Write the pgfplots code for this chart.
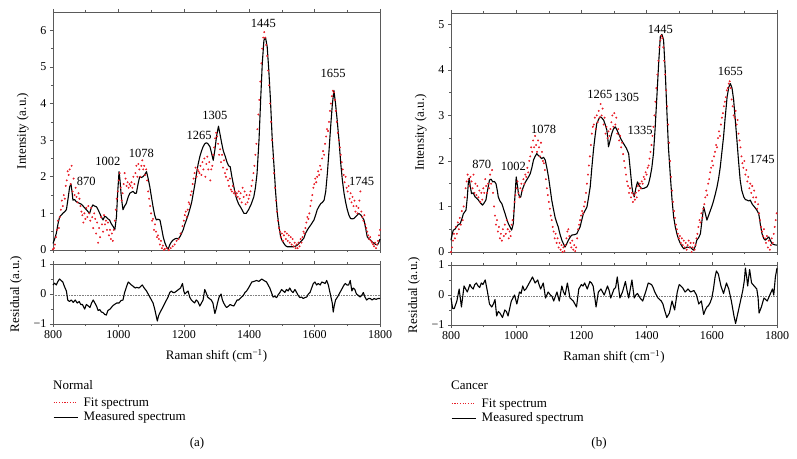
\documentclass[border=0pt]{standalone}
\usepackage{fontspec}
\setmainfont{Liberation Serif}
\usepackage{pgfplots}
\pgfplotsset{compat=1.18}
\definecolor{fitred}{RGB}{232,30,40}
\definecolor{axgray}{RGB}{90,90,90}
\tikzset{pk/.style={font=\fontsize{12.5}{14}\selectfont, inner sep=0pt}}
\pgfplotsset{
  base/.style={scale only axis, xmin=800, xmax=1800,
    xtick={800,1000,...,1800}, minor x tick num=1,
    tick align=outside, major tick length=3pt, minor tick length=2pt,
    axis line style={axgray, line width=0.8pt},
    every tick/.style={axgray, line width=0.6pt},
    ytick pos=left, xtick pos=both,
    /pgf/number format/assume math mode=true,
    /pgf/number format/1000 sep={},
    ticklabel style={font=\fontsize{12}{14}\selectfont},
    label style={font=\fontsize{13}{15}\selectfont},
    ylabel shift=5pt, xlabel shift=4pt,
    clip=false},
  meas/.style={black, line width=1.1pt, line join=round},
  fit/.style={fitred, only marks, mark=*, mark size=0.75pt},
  lg/.style={legend style={at={(0,-1.2)}, anchor=north west, draw=none, fill=none, inner sep=0pt,
    font=\fontsize{13}{15}\selectfont, row sep=1pt, column sep=4pt, nodes={inner sep=1.5pt}},
    legend cell align=left},
}
\newcommand{\fitimg}{\addlegendimage{legend image code/.code={\draw[draw=fitred, dash pattern=on 1.1pt off 1.6pt, line width=1pt] (0pt,0pt) -- (24pt,0pt);}}}
\newcommand{\measimg}{\addlegendimage{legend image code/.code={\draw[draw=black, line width=1pt] (0pt,0pt) -- (24pt,0pt);}}}
\begin{document}
\begin{tikzpicture}
\path[use as bounding box] (0pt,0pt) rectangle (797pt,458pt);
% ---------------- (a) Normal ----------------
\begin{axis}[base, at={(53pt,208pt)}, anchor=south west, width=327pt, height=238pt,
  ymin=0, ymax=6.5, ytick={0,...,6}, minor y tick num=1, xticklabels={},
  ylabel={Intensity (a.u.)}]
\addplot[fit] coordinates {
(800,0.02)(803,0.05)(806,0.15)(809,0.35)(812,0.55)(815,0.8)(818,0.6)(821,0.9)(824,1.1)(827,1.35)
(830,1.2)(833,1.5)(836,1.4)(839,1.75)(842,1.9)(845,2.15)(848,2.05)(851,2.2)(854,1.8)(857,2.3)
(860,1.6)(863,1.95)(866,1.5)(869,1.7)(872,1.45)(875,1.3)(878,1.55)(881,1.4)(884,1.2)(887,1.05)
(890,0.95)(893,0.75)(896,1.0)(899,0.85)(902,1.15)(905,0.9)(908,1.2)(911,1.0)(914,0.8)(917,1.15)
(920,0.9)(923,0.6)(926,1.0)(929,0.85)(932,0.45)(935,0.75)(938,0.2)(941,0.6)(944,0.35)(947,0.9)
(950,0.7)(953,0.5)(956,0.95)(959,0.7)(962,0.8)(965,0.55)(968,0.75)(971,0.4)(974,0.55)(977,0.3)
(980,0.45)(983,0.25)(986,0.55)(989,0.8)(992,1.1)(995,1.4)(998,1.6)(1001,1.9)(1004,2.1)(1007,1.7)
(1010,1.35)(1013,1.55)(1016,1.8)(1019,2.1)(1022,1.95)(1025,1.75)(1028,1.85)(1031,1.7)(1034,1.8)(1037,1.75)
(1040,1.85)(1043,1.7)(1046,2.0)(1049,1.8)(1052,2.1)(1055,2.3)(1058,2.0)(1061,2.35)(1064,2.2)(1067,2.0)
(1070,2.3)(1073,2.45)(1076,2.2)(1079,2.3)(1082,2.05)(1085,2.2)(1088,1.9)(1091,1.6)(1094,1.4)(1097,1.2)
(1100,1.0)(1103,0.8)(1106,0.85)(1109,0.55)(1112,0.7)(1115,0.5)(1118,0.35)(1121,0.4)(1124,0.3)(1127,0.15)
(1130,0.25)(1133,0.05)(1136,0.12)(1139,0.0)(1142,0.03)(1148,0.05)(1154,0.0)(1160,0.05)(1166,0.1)(1172,0.15)
(1178,0.25)(1184,0.3)(1190,0.45)(1196,0.65)(1200,0.8)(1203,0.95)(1206,1.05)(1209,0.9)(1212,1.1)(1215,1.3)
(1218,1.25)(1221,1.5)(1224,1.6)(1227,1.8)(1230,1.95)(1233,2.1)(1236,2.25)(1239,2.0)(1242,2.2)(1245,2.15)
(1248,2.1)(1251,2.3)(1254,2.05)(1257,2.4)(1260,2.2)(1263,2.5)(1266,2.0)(1269,2.35)(1272,2.55)(1275,2.2)
(1278,2.4)(1281,1.9)(1284,2.2)(1287,2.3)(1290,2.6)(1293,2.8)(1296,3.05)(1299,3.2)(1302,3.1)(1305,2.9)
(1308,2.6)(1311,2.75)(1314,2.4)(1317,2.6)(1320,2.25)(1323,2.45)(1326,2.1)(1329,2.0)(1332,2.2)(1335,1.9)
(1338,1.75)(1341,1.95)(1344,1.65)(1347,1.6)(1350,1.75)(1353,1.55)(1356,1.6)(1359,1.5)(1362,1.55)(1365,1.45)
(1368,1.6)(1371,1.4)(1374,1.55)(1377,1.3)(1380,1.7)(1383,1.45)(1386,1.6)(1389,1.25)(1392,1.5)(1395,1.3)
(1398,1.4)(1401,1.5)(1404,1.6)(1407,1.75)(1410,1.9)(1413,2.1)(1416,2.3)(1419,2.6)(1422,2.9)(1425,3.3)
(1428,3.7)(1431,4.1)(1434,4.6)(1437,5.1)(1440,5.5)(1443,5.8)(1446,5.95)(1449,5.8)(1452,5.6)(1455,5.3)
(1458,4.9)(1461,4.5)(1464,4.0)(1467,3.5)(1470,3.0)(1473,2.5)(1476,2.1)(1479,1.7)(1482,1.35)(1485,1.05)
(1488,0.8)(1491,0.6)(1494,0.5)(1497,0.35)(1500,0.45)(1503,0.25)(1506,0.4)(1509,0.5)(1512,0.3)(1515,0.45)
(1518,0.25)(1521,0.4)(1524,0.2)(1527,0.35)(1530,0.15)(1533,0.3)(1536,0.1)(1539,0.2)(1542,0.05)(1545,0.15)
(1548,0.05)(1551,0.2)(1554,0.1)(1557,0.3)(1560,0.2)(1563,0.35)(1566,0.5)(1569,0.45)(1572,0.6)(1575,0.75)
(1578,0.9)(1581,0.85)(1584,1.0)(1587,1.2)(1590,1.35)(1593,1.5)(1596,1.7)(1599,1.8)(1602,1.95)(1605,1.85)
(1608,2.0)(1611,2.15)(1614,2.05)(1617,2.3)(1620,2.2)(1623,2.5)(1626,2.7)(1629,2.6)(1632,2.9)(1635,3.1)
(1638,3.3)(1641,3.25)(1644,3.5)(1647,3.8)(1650,4.0)(1653,4.2)(1656,4.35)(1659,4.3)(1662,4.1)(1665,3.8)
(1668,3.5)(1671,3.2)(1674,3.0)(1677,2.8)(1680,2.6)(1683,2.4)(1686,2.2)(1689,2.05)(1692,1.85)(1695,2.0)
(1698,1.7)(1701,1.6)(1704,1.75)(1707,1.4)(1710,1.55)(1713,1.3)(1716,1.45)(1719,1.2)(1722,1.35)(1725,1.05)
(1728,1.2)(1731,1.0)(1734,1.15)(1737,1.35)(1740,1.6)(1743,1.05)(1746,0.9)(1749,0.8)(1752,0.95)(1755,0.7)
(1758,0.6)(1761,0.5)(1764,0.4)(1767,0.3)(1770,0.35)(1773,0.25)(1776,0.2)(1779,0.15)(1782,0.1)(1785,0.2)
(1788,0.05)(1791,0.15)(1794,0.25)(1797,0.4)(1800,0.55)};
\addplot[meas] coordinates {
(800,0.18)(805,0.3)(810,0.45)(815,0.7)(820,0.9)(825,0.95)(830,1.0)(836,1.05)(841,1.1)(846,1.4)
(851,1.73)(855,1.8)(858,1.6)(861,1.36)(866,1.38)(871,1.32)(876,1.3)(882,1.27)(887,1.25)(892,1.2)
(897,1.15)(902,1.1)(907,1.05)(912,1.0)(917,1.15)(922,1.23)(927,1.2)(933,1.18)(938,1.1)(943,1.0)
(948,0.9)(953,0.82)(958,0.92)(963,0.9)(968,0.85)(973,0.82)(978,0.72)(984,0.64)(989,0.55)(994,0.9)
(998,1.6)(1002,2.14)(1005,1.9)(1008,1.55)(1011,1.3)(1014,1.1)(1019,1.2)(1024,1.27)(1030,1.45)(1035,1.55)
(1040,1.58)(1045,1.6)(1050,1.55)(1055,1.55)(1060,1.8)(1065,2.0)(1070,1.98)(1075,2.0)(1080,2.05)(1086,2.14)
(1091,1.95)(1096,1.73)(1101,1.45)(1106,1.18)(1111,0.95)(1116,0.82)(1121,0.84)(1127,0.82)(1132,0.6)(1137,0.36)
(1142,0.2)(1147,0.09)(1152,0.02)(1157,0.14)(1162,0.22)(1167,0.27)(1172,0.3)(1178,0.32)(1183,0.3)(1188,0.36)
(1193,0.45)(1198,0.55)(1203,0.7)(1208,0.82)(1213,0.95)(1218,1.1)(1224,1.3)(1229,1.55)(1234,1.8)(1239,2.1)
(1244,2.35)(1249,2.55)(1254,2.7)(1259,2.82)(1264,2.9)(1269,2.93)(1274,2.9)(1280,2.82)(1285,2.64)(1290,2.45)
(1295,2.73)(1300,3.1)(1306,3.38)(1311,3.15)(1316,2.91)(1321,2.7)(1327,2.55)(1332,2.4)(1337,2.3)(1342,2.27)
(1347,2.0)(1353,1.73)(1358,1.5)(1363,1.36)(1368,1.25)(1373,1.18)(1378,1.1)(1384,1.0)(1391,1.0)(1398,1.1)
(1406,1.25)(1414,1.45)(1419,1.7)(1424,2.09)(1430,3.0)(1435,4.1)(1440,5.1)(1445,5.73)(1450,5.8)(1455,5.55)
(1460,4.9)(1465,4.1)(1470,3.1)(1476,2.27)(1481,1.55)(1486,1.0)(1491,0.65)(1496,0.36)(1501,0.25)(1506,0.18)
(1511,0.12)(1516,0.09)(1526,0.09)(1537,0.09)(1545,0.12)(1552,0.18)(1560,0.25)(1567,0.32)(1572,0.45)(1578,0.55)
(1583,0.62)(1588,0.68)(1593,0.75)(1598,0.82)(1603,0.95)(1608,1.1)(1614,1.2)(1619,1.27)(1624,1.3)(1629,1.36)
(1634,1.6)(1639,2.09)(1644,2.7)(1649,3.36)(1654,3.95)(1659,4.36)(1664,4.0)(1669,3.55)(1675,2.95)(1680,2.36)
(1685,1.9)(1690,1.55)(1695,1.3)(1700,1.1)(1705,0.95)(1710,0.86)(1715,0.85)(1720,0.86)(1727,0.92)(1735,1.0)
(1742,0.95)(1751,0.82)(1756,0.6)(1761,0.36)(1766,0.3)(1771,0.27)(1776,0.22)(1782,0.18)(1787,0.15)(1792,0.14)
(1796,0.2)(1800,0.3)};
\node[pk] at (axis cs:1443,6.18) {1445};
\node[pk] at (axis cs:1657,4.82) {1655};
\node[pk] at (axis cs:1295,3.68) {1305};
\node[pk] at (axis cs:1247,3.14) {1265};
\node[pk] at (axis cs:1070,2.64) {1078};
\node[pk] at (axis cs:968,2.41) {1002};
\node[pk] at (axis cs:902,1.86) {870};
\node[pk] at (axis cs:1744,1.86) {1745};
\end{axis}
\begin{axis}[base, lg, at={(53pt,134pt)}, anchor=south west, width=327pt, height=60pt,
  ymin=-1, ymax=1, ytick={-1,0,1}, yticklabels={−1,0,1}, minor y tick num=1,
  ylabel={Residual (a.u.)}, xlabel={Raman shift (cm\textsuperscript{−1})}]
\fitimg
\addlegendentry{Fit spectrum}
\measimg
\addlegendentry{Measured spectrum}
\addplot[gray, densely dotted, line width=0.6pt, forget plot] coordinates {(800,-0.03)(1800,-0.03)};
\addplot[meas, forget plot] coordinates {
(800,0.3)(805,0.36)(810,0.3)(815,0.42)(820,0.5)(825,0.45)(830,0.4)(835,0.25)(841,0.1)(845,-0.2)
(850,-0.25)(856,-0.2)(862,-0.28)(868,-0.2)(874,-0.3)(880,-0.25)(885,-0.35)(890,-0.35)(897,-0.5)(902,-0.35)
(908,-0.4)(913,-0.45)(918,-0.3)(923,-0.2)(928,-0.3)(933,-0.4)(938,-0.55)(943,-0.52)(948,-0.6)(953,-0.62)
(958,-0.68)(963,-0.7)(968,-0.55)(975,-0.5)(982,-0.4)(988,-0.35)(995,-0.3)(1002,-0.3)(1008,-0.22)(1014,-0.2)
(1019,0.05)(1025,0.25)(1030,0.4)(1035,0.35)(1040,0.3)(1046,0.25)(1051,0.2)(1056,0.22)(1063,0.2)(1068,0.25)
(1073,0.3)(1079,0.2)(1086,0.1)(1091,0.0)(1096,-0.1)(1101,-0.2)(1106,-0.3)(1111,-0.5)(1116,-0.75)(1119,-0.9)
(1123,-0.72)(1128,-0.6)(1133,-0.5)(1140,-0.35)(1147,-0.2)(1152,-0.1)(1157,0.05)(1162,0.1)(1167,0.05)(1172,0.05)
(1178,0.1)(1184,0.15)(1190,0.2)(1196,0.35)(1200,0.1)(1203,0.0)(1208,0.05)(1213,0.1)(1218,-0.1)(1223,-0.2)
(1228,-0.25)(1233,-0.3)(1238,-0.2)(1243,-0.25)(1249,-0.4)(1254,-0.3)(1259,-0.2)(1264,0.15)(1268,0.05)(1273,-0.1)
(1278,-0.15)(1284,-0.2)(1289,-0.3)(1295,-0.65)(1299,-0.5)(1303,-0.3)(1308,-0.1)(1314,0.0)(1318,-0.2)(1322,-0.3)
(1327,-0.4)(1331,-0.45)(1337,-0.4)(1342,-0.35)(1347,-0.38)(1353,-0.4)(1358,-0.3)(1363,-0.2)(1368,-0.2)(1375,-0.12)
(1382,-0.05)(1387,0.05)(1392,0.1)(1398,0.2)(1403,0.3)(1408,0.4)(1415,0.42)(1422,0.45)(1430,0.42)(1438,0.5)
(1445,0.45)(1453,0.4)(1458,0.3)(1463,0.2)(1468,0.05)(1473,-0.1)(1478,-0.08)(1484,-0.12)(1489,-0.02)(1494,0.05)
(1499,0.15)(1504,0.1)(1509,0.05)(1514,0.15)(1519,0.1)(1524,0.2)(1529,0.1)(1534,0.05)(1540,0.15)(1545,0.05)
(1550,-0.05)(1555,-0.12)(1560,-0.1)(1565,-0.15)(1570,-0.12)(1576,-0.1)(1581,0.0)(1586,0.05)(1591,0.2)(1596,0.35)
(1601,0.4)(1606,0.3)(1611,0.35)(1617,0.3)(1622,0.4)(1627,0.38)(1632,0.35)(1637,0.45)(1642,0.3)(1647,0.05)
(1650,-0.1)(1654,-0.3)(1657,-0.6)(1660,-0.4)(1664,-0.2)(1670,-0.1)(1675,0.0)(1680,0.1)(1685,0.2)(1690,0.3)
(1694,0.35)(1699,0.3)(1704,0.3)(1709,0.45)(1714,0.1)(1718,0.2)(1723,0.15)(1728,0.0)(1734,-0.05)(1739,-0.1)
(1744,-0.05)(1749,0.05)(1754,-0.1)(1759,-0.2)(1765,-0.15)(1770,-0.15)(1776,-0.2)(1782,-0.15)(1788,-0.18)(1794,-0.15)
(1800,-0.15)};
\end{axis}
\node[anchor=west, inner sep=0pt, font=\fontsize{13}{15}\selectfont] at (53pt,73pt) {Normal};
\node[font=\fontsize{13}{15}\selectfont] at (197pt,15pt) {(a)};
% ---------------- (b) Cancer ----------------
\begin{axis}[base, at={(451pt,206pt)}, anchor=south west, width=326pt, height=239pt,
  ymin=0, ymax=5.25, ytick={0,...,5}, minor y tick num=1, xticklabels={},
  ylabel={Intensity (a.u.)}]
\addplot[fit] coordinates {
(800,0.0)(803,0.1)(806,0.25)(809,0.4)(812,0.3)(815,0.55)(818,0.4)(821,0.65)(824,0.5)(827,0.75)
(830,0.6)(833,0.9)(836,0.7)(839,1.0)(842,1.2)(845,1.4)(848,1.55)(851,1.7)(854,1.6)(857,1.45)
(860,1.65)(863,1.55)(866,1.4)(869,1.7)(872,1.3)(875,1.5)(878,1.25)(881,1.45)(884,1.2)(887,1.35)
(890,1.1)(893,1.3)(896,1.15)(899,1.4)(902,1.3)(905,1.6)(908,1.45)(911,1.3)(914,1.5)(917,1.4)
(920,1.7)(923,1.5)(926,1.8)(929,1.3)(932,1.0)(935,0.8)(938,0.6)(941,0.7)(944,0.45)(947,0.55)
(950,0.3)(953,0.4)(956,0.25)(959,0.5)(962,0.35)(965,0.6)(968,0.4)(971,0.7)(974,0.5)(977,0.3)
(980,0.45)(983,0.35)(986,0.6)(989,0.7)(992,0.9)(995,1.1)(998,1.25)(1001,1.4)(1004,1.55)(1007,1.3)
(1010,1.2)(1013,1.4)(1016,1.5)(1019,1.35)(1022,1.6)(1025,1.5)(1028,1.7)(1031,1.65)(1034,1.85)(1037,1.75)
(1040,2.0)(1043,2.1)(1046,2.3)(1049,2.2)(1052,2.45)(1055,2.3)(1058,2.55)(1061,2.35)(1064,2.2)(1067,2.45)
(1070,2.3)(1073,2.1)(1076,2.4)(1079,2.2)(1082,2.0)(1085,1.95)(1088,1.8)(1091,1.6)(1094,1.4)(1097,1.25)
(1100,1.1)(1103,0.95)(1106,0.8)(1109,0.7)(1112,0.55)(1115,0.45)(1118,0.3)(1121,0.4)(1124,0.2)(1127,0.3)
(1130,0.1)(1133,0.2)(1136,0.05)(1139,0.15)(1142,0.0)(1145,0.1)(1148,0.02)(1151,0.15)(1154,0.3)(1157,0.45)
(1160,0.5)(1163,0.35)(1166,0.2)(1169,0.1)(1172,0.25)(1175,0.05)(1178,0.15)(1181,0.02)(1184,0.1)(1187,0.3)
(1190,0.5)(1193,0.6)(1196,0.7)(1199,0.8)(1202,0.9)(1205,0.85)(1208,1.0)(1211,1.1)(1214,1.3)(1217,1.5)
(1220,1.7)(1223,1.9)(1226,2.1)(1229,2.35)(1232,2.6)(1235,2.75)(1238,2.8)(1241,2.95)(1244,2.7)(1247,3.0)
(1250,2.85)(1253,3.1)(1256,2.95)(1259,3.25)(1262,3.0)(1265,3.15)(1268,2.8)(1271,2.95)(1274,2.6)(1277,2.75)
(1280,2.5)(1283,2.65)(1286,2.55)(1289,2.7)(1292,2.85)(1295,3.0)(1298,2.75)(1301,3.05)(1304,2.8)(1307,2.95)
(1310,2.6)(1313,2.7)(1316,2.45)(1319,2.55)(1322,2.3)(1325,2.4)(1328,2.15)(1331,2.0)(1334,1.85)(1337,1.7)
(1340,1.55)(1343,1.45)(1346,1.3)(1349,1.4)(1352,1.2)(1355,1.3)(1358,1.1)(1361,1.25)(1364,1.15)(1367,1.3)
(1370,1.2)(1373,1.45)(1376,1.35)(1379,1.5)(1382,1.4)(1385,1.55)(1388,1.5)(1391,1.65)(1394,1.6)(1397,1.75)
(1400,1.7)(1403,1.85)(1406,1.9)(1409,2.05)(1412,2.2)(1415,2.35)(1418,2.55)(1421,2.75)(1424,3.0)(1427,3.3)
(1430,3.6)(1433,3.9)(1436,4.2)(1439,4.5)(1442,4.65)(1445,4.75)(1448,4.7)(1451,4.5)(1454,4.2)(1457,3.9)
(1460,3.55)(1463,3.2)(1466,2.8)(1469,2.4)(1472,2.0)(1475,1.65)(1478,1.35)(1481,1.1)(1484,0.9)(1487,0.75)
(1490,0.6)(1493,0.5)(1496,0.4)(1499,0.3)(1502,0.35)(1505,0.2)(1508,0.3)(1511,0.15)(1514,0.25)(1517,0.1)
(1520,0.2)(1523,0.05)(1526,0.15)(1529,0.25)(1532,0.1)(1535,0.2)(1538,0.0)(1541,0.1)(1544,0.2)(1547,0.05)
(1550,0.15)(1553,0.3)(1556,0.4)(1559,0.55)(1562,0.7)(1565,0.65)(1568,0.85)(1571,0.75)(1574,0.95)(1577,1.05)
(1580,1.2)(1583,1.35)(1586,1.25)(1589,1.5)(1592,1.6)(1595,1.75)(1598,1.85)(1601,2.0)(1604,1.9)(1607,2.1)
(1610,2.2)(1613,2.35)(1616,2.3)(1619,2.5)(1622,2.65)(1625,2.55)(1628,2.8)(1631,2.95)(1634,3.05)(1637,3.2)
(1640,3.3)(1643,3.4)(1646,3.55)(1649,3.6)(1652,3.7)(1655,3.75)(1658,3.6)(1661,3.35)(1664,3.2)(1667,3.0)
(1670,2.95)(1673,3.1)(1676,2.8)(1679,2.9)(1682,2.6)(1685,2.45)(1688,2.3)(1691,2.1)(1694,1.95)(1697,1.85)
(1700,2.0)(1703,1.7)(1706,1.8)(1709,1.55)(1712,1.65)(1715,1.4)(1718,1.5)(1721,1.3)(1724,1.45)(1727,1.2)
(1730,1.35)(1733,1.1)(1736,1.2)(1739,0.95)(1742,1.05)(1745,0.85)(1748,0.7)(1751,0.55)(1754,0.45)(1757,0.35)
(1760,0.5)(1763,0.3)(1766,0.2)(1769,0.35)(1772,0.1)(1775,0.25)(1778,0.05)(1781,0.15)(1784,0.3)(1787,0.2)
(1790,0.4)(1793,0.55)(1796,0.7)(1799,0.85)};
\addplot[meas] coordinates {
(800,0.26)(804,0.4)(807,0.48)(812,0.5)(817,0.55)(822,0.6)(828,0.62)(833,0.72)(838,0.84)(842,0.88)
(846,0.92)(850,1.2)(853,1.5)(856,1.62)(859,1.45)(863,1.28)(868,1.3)(874,1.21)(879,1.18)(884,1.14)
(890,1.08)(897,1.03)(902,1.08)(907,1.14)(912,1.35)(918,1.58)(923,1.6)(928,1.54)(933,1.55)(938,1.5)
(942,1.35)(945,1.21)(950,1.12)(956,1.06)(961,0.95)(966,0.84)(971,0.72)(976,0.62)(981,0.55)(986,0.48)
(991,0.62)(995,1.1)(1000,1.65)(1004,1.45)(1007,1.28)(1011,1.2)(1014,1.21)(1018,1.35)(1022,1.43)(1027,1.52)
(1032,1.58)(1038,1.65)(1043,1.72)(1048,1.85)(1053,2.02)(1058,2.1)(1063,2.16)(1068,2.12)(1073,2.09)(1078,2.05)
(1084,2.08)(1089,2.02)(1094,1.85)(1099,1.65)(1104,1.4)(1109,1.14)(1114,0.95)(1119,0.77)(1124,0.65)(1129,0.55)
(1134,0.4)(1140,0.26)(1145,0.18)(1150,0.11)(1155,0.18)(1160,0.26)(1165,0.32)(1170,0.37)(1178,0.38)(1186,0.4)
(1191,0.48)(1196,0.55)(1201,0.7)(1206,0.84)(1212,0.92)(1217,0.99)(1222,1.2)(1227,1.43)(1232,1.85)(1237,2.24)
(1242,2.55)(1247,2.82)(1252,2.9)(1257,2.97)(1262,2.95)(1268,2.9)(1273,2.8)(1278,2.68)(1281,2.5)(1283,2.31)
(1288,2.45)(1293,2.6)(1298,2.7)(1304,2.75)(1309,2.68)(1314,2.6)(1320,2.5)(1326,2.42)(1332,2.35)(1338,2.28)
(1345,2.16)(1350,1.8)(1355,1.43)(1358,1.3)(1362,1.21)(1367,1.4)(1372,1.54)(1378,1.45)(1385,1.39)(1392,1.4)
(1401,1.43)(1406,1.5)(1411,1.65)(1416,1.85)(1421,2.16)(1426,2.7)(1432,3.48)(1437,4.15)(1442,4.73)(1447,4.78)
(1452,4.66)(1457,4.0)(1462,3.12)(1467,2.3)(1473,1.65)(1478,1.15)(1483,0.77)(1488,0.55)(1493,0.4)(1498,0.28)
(1504,0.18)(1509,0.12)(1514,0.07)(1519,0.09)(1524,0.11)(1529,0.1)(1534,0.11)(1539,0.07)(1544,0.04)(1549,0.12)
(1554,0.26)(1560,0.32)(1565,0.4)(1570,0.7)(1575,0.99)(1580,0.85)(1585,0.7)(1590,0.8)(1596,0.92)(1601,1.02)
(1606,1.14)(1611,1.28)(1616,1.43)(1621,1.62)(1626,1.87)(1631,2.2)(1636,2.53)(1641,2.95)(1647,3.41)(1652,3.62)
(1657,3.7)(1662,3.6)(1667,3.34)(1672,2.9)(1677,2.46)(1682,2.0)(1687,1.58)(1692,1.35)(1698,1.21)(1703,1.15)
(1708,1.14)(1713,1.12)(1718,1.14)(1724,1.05)(1731,0.99)(1738,0.92)(1744,0.84)(1749,0.6)(1754,0.4)(1759,0.3)
(1764,0.26)(1770,0.3)(1775,0.33)(1780,0.25)(1785,0.18)(1792,0.16)(1800,0.15)};
\node[pk] at (axis cs:1442,4.89) {1445};
\node[pk] at (axis cs:1657,3.96) {1655};
\node[pk] at (axis cs:1257,3.47) {1265};
\node[pk] at (axis cs:1339,3.39) {1305};
\node[pk] at (axis cs:1380,2.68) {1335};
\node[pk] at (axis cs:1084,2.69) {1078};
\node[pk] at (axis cs:991,1.89) {1002};
\node[pk] at (axis cs:894,1.93) {870};
\node[pk] at (axis cs:1754,2.03) {1745};
\end{axis}
\begin{axis}[base, lg, at={(451pt,133pt)}, anchor=south west, width=326pt, height=60pt,
  ymin=-1, ymax=1, ytick={-1,0,1}, yticklabels={−1,0,1}, minor y tick num=1,
  ylabel={Residual (a.u.)}, xlabel={Raman shift (cm\textsuperscript{−1})}]
\fitimg
\addlegendentry{Fit spectrum}
\measimg
\addlegendentry{Measured spectrum}
\addplot[gray, densely dotted, line width=0.6pt, forget plot] coordinates {(800,-0.03)(1800,-0.03)};
\addplot[meas, forget plot] coordinates {
(800,-0.1)(805,-0.45)(810,-0.45)(818,-0.2)(825,0.2)(832,-0.4)(840,0.3)(845,0.2)(850,0.1)(858,0.35)
(863,0.25)(868,0.2)(873,0.35)(878,0.4)(883,0.3)(888,0.25)(893,0.4)(898,0.35)(905,0.5)(912,0.1)
(918,-0.3)(925,-0.4)(930,-0.3)(935,-0.15)(940,-0.7)(945,-0.55)(950,-0.6)(958,-0.75)(965,-0.5)(970,-0.55)
(975,-0.7)(980,-0.45)(985,-0.2)(990,-0.1)(995,0.0)(1002,-0.3)(1010,0.1)(1015,0.05)(1020,0.3)(1025,0.15)
(1030,0.2)(1035,0.3)(1040,0.4)(1045,0.5)(1050,0.6)(1058,0.4)(1066,0.5)(1070,0.35)(1075,0.2)(1083,0.4)
(1090,-0.1)(1098,0.1)(1105,0.0)(1110,-0.05)(1115,-0.2)(1120,-0.05)(1125,0.1)(1132,-0.2)(1140,0.3)(1145,0.1)
(1150,0.0)(1157,0.4)(1165,-0.1)(1170,-0.15)(1175,-0.2)(1180,-0.3)(1185,-0.4)(1192,0.2)(1200,0.35)(1205,0.3)
(1210,0.4)(1218,0.2)(1226,0.45)(1231,0.4)(1236,0.3)(1240,0.0)(1245,-0.4)(1252,0.1)(1260,0.2)(1265,0.1)
(1270,0.0)(1280,0.3)(1285,0.15)(1290,-0.1)(1300,0.2)(1305,0.25)(1310,0.6)(1318,-0.1)(1326,0.1)(1335,0.45)
(1340,0.15)(1345,-0.1)(1355,0.5)(1362,-0.1)(1367,0.0)(1372,0.05)(1380,-0.1)(1388,-0.2)(1397,0.1)(1405,0.4)
(1415,0.35)(1420,0.25)(1425,0.1)(1435,-0.1)(1445,-0.2)(1450,-0.3)(1455,-0.5)(1462,-0.75)(1470,-0.6)(1478,-0.2)
(1486,-0.5)(1494,0.1)(1500,0.35)(1505,0.3)(1510,0.25)(1518,0.1)(1527,0.2)(1535,0.1)(1545,0.15)(1553,0.0)
(1560,-0.3)(1568,-0.2)(1575,-0.65)(1580,-0.5)(1585,-0.4)(1590,-0.35)(1595,-0.25)(1600,-0.1)(1605,0.2)(1610,0.6)
(1614,0.8)(1620,0.7)(1624,0.5)(1628,0.3)(1636,0.05)(1645,0.4)(1652,0.2)(1656,0.0)(1660,-0.2)(1664,-0.45)
(1668,-0.7)(1673,-0.95)(1676,-0.8)(1680,-0.6)(1688,-0.2)(1695,0.15)(1700,0.5)(1703,0.9)(1707,0.6)(1710,0.3)
(1716,0.85)(1722,0.4)(1730,0.3)(1738,0.2)(1742,-0.1)(1745,-0.6)(1752,-0.4)(1760,-0.1)(1765,-0.15)(1770,-0.2)
(1778,0.0)(1786,0.2)(1790,0.0)(1795,0.6)(1800,0.9)};
\end{axis}
\node[anchor=west, inner sep=0pt, font=\fontsize{13}{15}\selectfont] at (451pt,73pt) {Cancer};
\node[font=\fontsize{13}{15}\selectfont] at (599pt,15pt) {(b)};
\end{tikzpicture}
\end{document}
